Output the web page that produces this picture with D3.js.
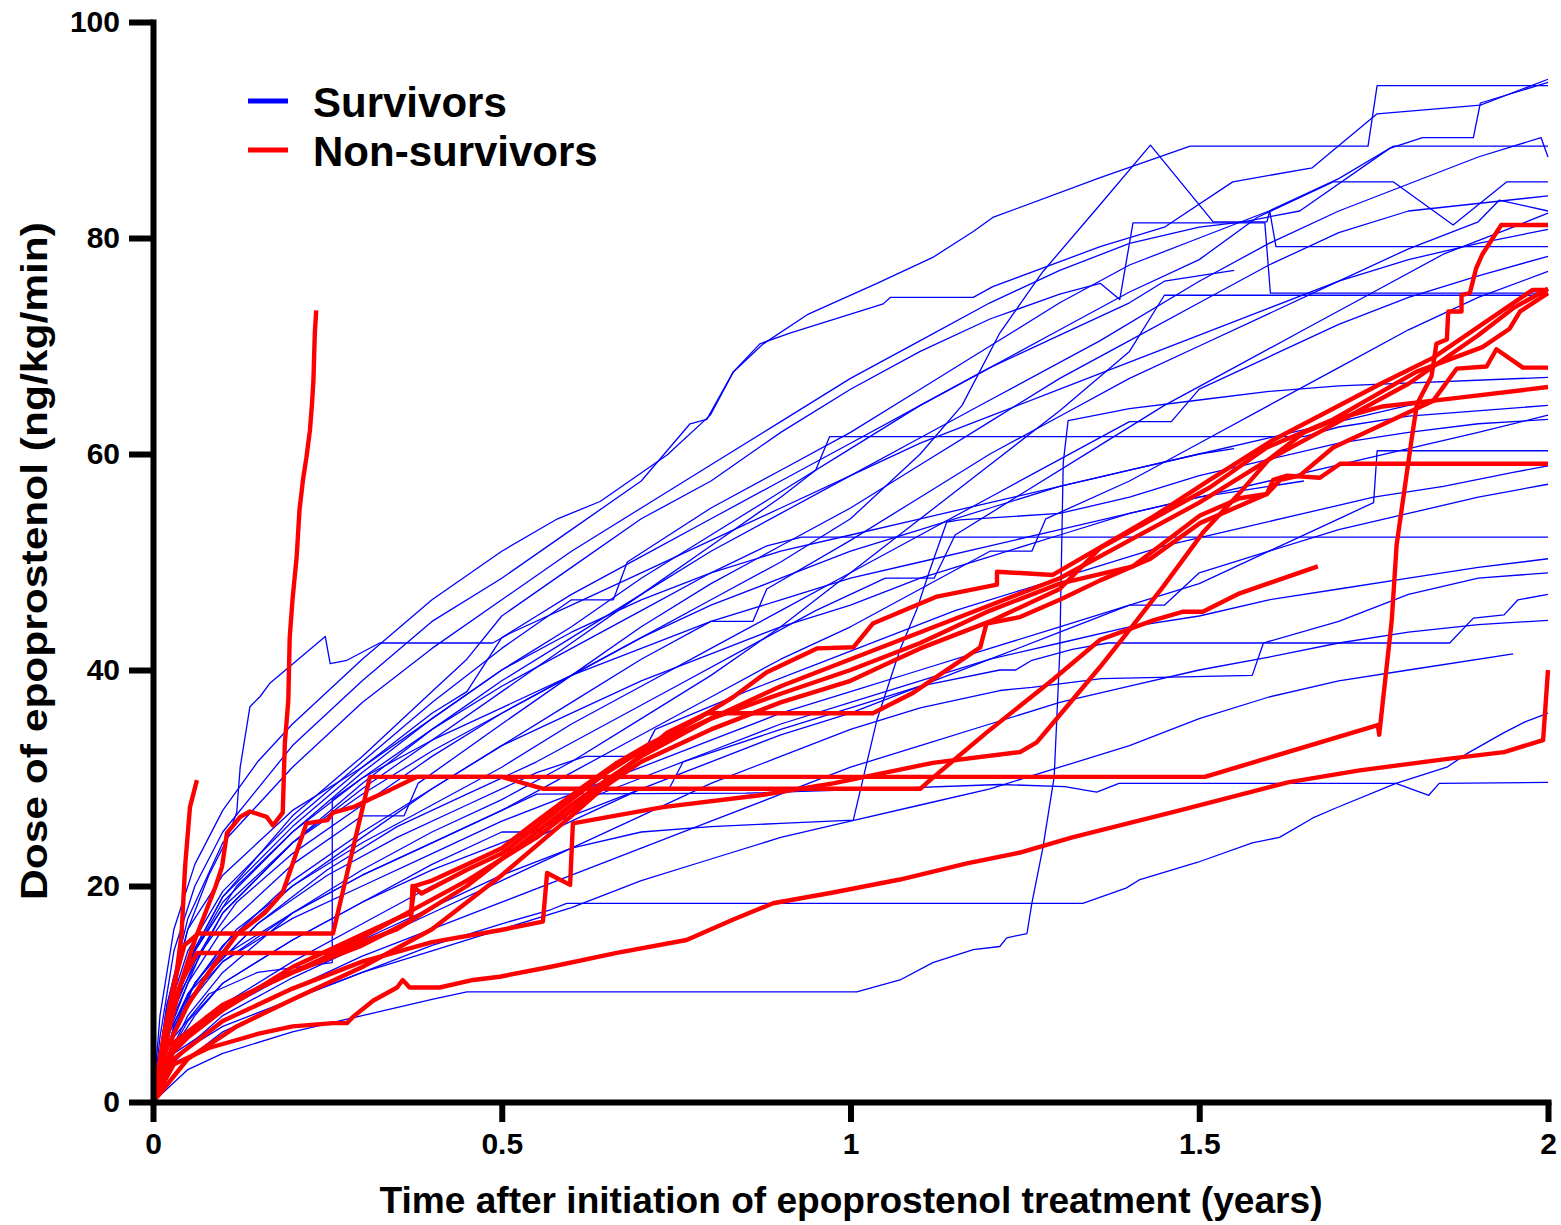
<!DOCTYPE html>
<html>
<head>
<meta charset="utf-8">
<script src="https://cdn.jsdelivr.net/npm/d3@7/dist/d3.min.js"></script>
<style>
  html, body { margin: 0; padding: 0; background: #fff; }
  svg { display: block; }
  text { font-family: "Liberation Sans", Arial, sans-serif; font-weight: bold; fill: #000; }
</style>
</head>
<body>
<svg id="chart" width="1561" height="1225"></svg>
<script>
// Axis ticks
const xTicks = [0, 0.5, 1, 1.5, 2];
const yTicks = [0, 20, 40, 60, 80, 100];

// Survivors: [years, ng/kg/min]
const s01 = [[0,0],[0.01,8],[0.03,16],[0.06,22],[0.1,27],[0.15,31.5],[0.2,35],[0.3,41],[0.4,46.5],[0.5,51],[0.58,54],[0.641,55.6],[0.737,59.9],[0.799,63.6],[0.832,67.6],[0.875,70.2],[0.938,72.9],[1.038,75.8],[1.118,78.2],[1.176,80.6],[1.204,81.9],[1.358,85.6],[1.487,88.5],[1.742,88.5],[1.755,94.1],[2.0,94.1]];
const s02 = [[0,0],[0.01,6],[0.03,14],[0.06,20],[0.1,25],[0.2,33],[0.3,39],[0.4,44.5],[0.5,48.5],[0.6,53],[0.7,57.5],[0.77,62.8],[0.794,63.2],[0.832,67.6],[0.87,70.2],[0.913,71.2],[1.047,73.9],[1.057,74.5],[1.176,74.5],[1.204,75.5],[1.358,79.2],[1.45,81],[1.548,85.2],[1.662,86.5],[1.755,91.5],[1.903,92.3],[2.0,94.7]];
const s03 = [[0,0],[0.02,7],[0.05,13],[0.1,18],[0.2,24],[0.3,28.5],[0.4,32.5],[0.5,36],[0.6,39.5],[0.7,43],[0.8,46.5],[0.9,50],[1.0,54],[1.1,60],[1.16,64.5],[1.214,71.2],[1.276,76.9],[1.358,83.1],[1.43,88.6],[1.52,81.5],[1.597,81.5],[1.601,82.5],[1.61,79.2],[2.0,79.2]];
const s04 = [[0,0],[0.02,7],[0.05,13],[0.1,19],[0.2,26.5],[0.3,32],[0.4,38],[0.45,41],[0.5,45],[0.6,49.5],[0.7,54],[0.8,57.5],[0.9,62],[1.0,66],[1.1,69.5],[1.2,72.5],[1.3,74.8],[1.358,75.8],[1.386,74.3],[1.405,81.4],[1.594,81.4],[1.602,74.9],[2.0,74.9]];
const s05 = [[0,0],[0.02,9],[0.05,17],[0.1,24],[0.2,31],[0.3,37],[0.4,42],[0.5,46.5],[0.6,51],[0.7,55],[0.8,59],[0.9,63],[1.0,67],[1.1,70.5],[1.2,74],[1.3,77],[1.4,79.5],[1.5,81],[1.563,81.5],[1.644,82.5],[1.773,88.3],[1.82,89.3],[1.893,89.3],[1.903,92.5],[2.0,94.4]];
const s06 = [[0,0],[0.03,9],[0.1,17.5],[0.2,24],[0.3,29],[0.4,33.5],[0.5,38],[0.6,42.5],[0.7,47],[0.8,51],[0.9,54.5],[1.0,58],[1.1,61.5],[1.2,65],[1.358,70.5],[1.5,76],[1.6,79.5],[1.7,82.5],[1.8,85],[1.9,87.5],[1.99,89.3],[2.0,87.5]];
const s07 = [[0,0],[0.02,7],[0.06,14],[0.1,18.5],[0.2,25],[0.3,30.5],[0.4,35.5],[0.5,40],[0.6,44],[0.7,48.5],[0.8,52.5],[0.9,56.5],[1.0,60.5],[1.1,64.5],[1.2,68],[1.3,71.5],[1.4,75],[1.5,78],[1.583,81.9],[1.692,85.2],[1.778,85.2],[1.864,81.2],[1.941,85.2],[2.0,85.2]];
const s08 = [[0,0],[0.02,6],[0.05,11],[0.1,16],[0.2,22],[0.3,26.5],[0.36,26.5],[0.38,29.5],[0.5,35],[0.6,39.5],[0.7,44],[0.8,48],[0.9,51.5],[1.0,55],[1.1,59],[1.2,63],[1.3,67],[1.4,70.5],[1.5,74],[1.6,77.5],[1.7,80.5],[1.8,82.5],[2.0,83.9]];
const s09 = [[0,0],[0.02,5],[0.05,10],[0.1,14.5],[0.2,20.5],[0.3,25],[0.4,29],[0.5,33],[0.6,37],[0.7,41],[0.8,44.5],[0.86,44.5],[0.88,47.5],[1.0,52],[1.1,56],[1.2,60],[1.3,63.5],[1.4,67],[1.5,70],[1.6,73],[1.7,76],[1.8,79],[1.9,81.5],[1.93,83.5],[2.0,82.5]];
const s10 = [[0,0],[0.03,7],[0.08,12],[0.15,16.5],[0.25,21.5],[0.35,25.5],[0.45,28.5],[0.55,31.5],[0.65,35],[0.75,38.5],[0.85,42],[0.95,45.5],[1.05,48.5],[1.12,48.5],[1.15,52.5],[1.25,56.5],[1.35,60.5],[1.45,64.5],[1.55,68],[1.65,71.5],[1.75,75],[1.85,78.5],[1.95,81],[2.0,82.3]];
const s11 = [[0,0],[0.02,5],[0.06,11],[0.12,16],[0.2,20],[0.3,24],[0.4,27.5],[0.5,31],[0.6,35],[0.7,38.5],[0.8,42],[0.9,45.5],[1.0,49],[1.1,52.5],[1.2,56],[1.3,59.5],[1.4,63],[1.46,63],[1.5,66],[1.6,69],[1.7,72],[1.8,74.5],[1.9,76.5],[2.0,78.3]];
const s12 = [[0,0],[0.02,5],[0.05,9],[0.1,13],[0.2,17.5],[0.3,21],[0.4,24],[0.5,27],[0.6,30.5],[0.7,34],[0.8,37.5],[0.9,41],[1.0,44],[1.1,47.5],[1.2,51],[1.26,51],[1.28,54],[1.4,57.5],[1.5,61],[1.6,64.5],[1.7,68],[1.8,71.5],[1.9,74.5],[2.0,76.9]];
const s13 = [[0,0],[0.05,3],[0.1,4.5],[0.2,6.5],[0.3,8],[0.4,9.5],[0.45,10.2],[1.009,10.2],[1.071,11.3],[1.118,12.9],[1.176,14.1],[1.214,14.4],[1.224,15.2],[1.253,15.6],[1.26,18.4],[1.276,23.6],[1.292,30.1],[1.3,41.6],[1.305,59.2],[1.312,63.1],[1.4,64.2],[1.5,65],[1.6,65.8],[1.7,66.3],[2.0,67.1]];
const s14 = [[0,0],[0.05,4],[0.1,6.5],[0.2,9.5],[0.3,12],[0.4,14.5],[0.5,16.5],[0.57,17.8],[0.593,18.4],[1.333,18.4],[1.395,19.8],[1.415,20.6],[1.498,22.2],[1.576,24],[1.615,24.5],[1.663,26.3],[1.695,27.2],[1.782,29.5],[1.855,31],[1.885,32.3],[1.937,34.2],[1.967,35.2],[2.0,36]];
const s15 = [[0,0],[0.02,6],[0.05,10],[0.1,13.5],[0.15,15.5],[0.2,17.5],[0.3,21],[0.4,24],[0.5,27],[0.55,28.5],[0.85,28.6],[1.0,28.9],[1.214,29.4],[1.307,29.2],[1.353,28.7],[1.385,29.5],[1.782,29.5],[1.829,28.4],[1.844,29.5],[2.0,29.6]];
const s16 = [[0,0],[0.03,5],[0.1,9],[0.2,13],[0.3,16.5],[0.4,20],[0.5,23],[0.6,26],[0.7,29],[0.74,29],[0.76,31.5],[0.9,34.5],[1.0,36.5],[1.1,38.5],[1.214,40],[1.237,40],[1.26,40.9],[1.318,41.9],[1.369,42.5],[1.859,42.5],[1.893,44.8],[1.937,45.1],[1.957,46.5],[2.0,47]];
const s17 = [[0,0],[0.03,4],[0.1,8],[0.2,11.5],[0.3,14.5],[0.4,17.5],[0.5,20.5],[0.6,23.5],[0.7,26.5],[0.8,29.5],[0.9,32],[1.0,34.5],[1.1,36.5],[1.214,38.1],[1.26,38.4],[1.36,39.2],[1.576,39.5],[1.592,42.5],[1.7,44.5],[1.8,47],[1.9,48.5],[2.0,49]];
const s18 = [[0,0],[0.02,4],[0.06,8],[0.1,11],[0.2,15],[0.3,18.5],[0.4,22],[0.5,25],[0.56,25],[0.6,27.5],[0.7,30],[0.8,32.5],[0.9,35],[1.0,37],[1.1,39],[1.2,41],[1.3,42.5],[1.4,44],[1.5,45],[1.6,46.5],[1.7,47.5],[1.8,48.5],[1.9,49.5],[2.0,50.3]];
const s19 = [[0,0],[0.02,7],[0.06,14],[0.12,20],[0.2,25],[0.3,30],[0.4,34.5],[0.5,38.5],[0.6,42],[0.7,45.5],[0.8,49],[0.88,51.5],[0.93,52.3],[2.0,52.3]];
const s20 = [[0,0],[0.02,5],[0.05,9.5],[0.1,13],[0.2,17],[0.3,20],[0.4,23],[0.5,26],[0.6,28.5],[0.7,31],[0.8,33.5],[0.9,36],[1.0,38],[1.1,40],[1.2,42],[1.3,44],[1.4,46],[1.45,46],[1.5,49],[1.6,51],[1.7,53],[1.8,54.5],[1.9,56],[2.0,57.2]];
const s21 = [[0,0],[0.03,7],[0.08,12],[0.15,16.5],[0.25,21],[0.35,24.5],[0.45,27.5],[0.55,30.5],[0.62,32],[0.7,32],[0.72,34.5],[0.85,38],[0.95,40.5],[1.05,43],[1.15,45.5],[1.25,47.5],[1.35,49.5],[1.45,51.5],[1.55,53],[1.65,54.5],[1.75,56],[1.85,57],[1.95,58.3],[2.0,58.9]];
const s22 = [[0,0],[0.02,4],[0.05,7.5],[0.1,11],[0.2,15],[0.3,18.5],[0.4,21.5],[0.5,24],[0.6,26.5],[0.7,29],[0.8,31.5],[0.9,34],[1.0,36],[1.1,38.5],[1.2,41],[1.3,43.5],[1.4,46],[1.5,48],[1.6,51],[1.7,54],[1.75,55.5],[1.755,60.3],[2.0,60.3]];
const s23 = [[0,0],[0.02,6],[0.06,11],[0.12,15.5],[0.2,20],[0.3,24.5],[0.4,29],[0.5,33],[0.6,36],[0.7,39],[0.8,41.5],[0.9,44],[1.0,46],[1.1,48.5],[1.2,50.5],[1.3,52.5],[1.4,54.5],[1.5,56],[1.6,57.5],[1.7,59],[1.8,60.5],[1.9,62],[2.0,63.6]];
const s24 = [[0,0],[0.02,7],[0.06,13],[0.1,17.5],[0.2,24],[0.3,29.5],[0.4,34.5],[0.5,39],[0.6,43],[0.7,47],[0.8,51.5],[0.9,56],[0.95,58.5],[0.97,61.6],[1.65,61.6],[1.7,62.5],[1.8,63.5],[2.0,64.5]];
const s25 = [[0,0],[0.03,8],[0.07,14],[0.12,18.5],[0.2,23],[0.3,27.5],[0.4,32],[0.5,36],[0.6,39.5],[0.7,43],[0.8,46],[0.9,48.5],[1.0,51],[1.1,53],[1.2,55],[1.3,57],[1.4,58.5],[1.5,60],[1.6,61.5],[1.7,63],[1.8,64.5],[1.9,65.5],[2.0,66.2]];
const s26 = [[0,0],[0.02,4],[0.05,8],[0.1,12],[0.2,17.5],[0.3,21.5],[0.4,25],[0.5,28],[0.6,31.5],[0.7,35.5],[0.8,39.5],[0.9,44],[1.0,49],[1.1,54],[1.2,59],[1.3,64],[1.4,69.5],[1.45,74.7],[2.0,74.7]];
const s27 = [[0,0],[0.02,8],[0.05,14],[0.1,19.5],[0.2,26],[0.3,31.5],[0.4,37],[0.5,42],[0.6,46.5],[0.66,46.5],[0.68,50],[0.8,55],[0.9,58.5],[1.0,62],[1.1,66],[1.2,70],[1.3,74],[1.4,77.5],[1.5,80],[1.6,82.5],[1.7,85.5],[1.778,88.5],[2.0,88.5]];
const s28 = [[0,0],[0.02,8],[0.05,16],[0.08,21],[0.106,24.3],[0.12,26.8],[0.125,31],[0.139,36.6],[0.153,37.5],[0.168,38.8],[0.247,43.1],[0.254,40.6],[0.278,40.9],[0.325,42.5],[0.487,42.5],[0.512,43.4],[0.6,46],[0.7,49],[0.8,52],[0.9,55],[1.0,58],[1.1,61],[1.2,63.5],[1.3,66],[1.4,68.5],[1.5,71],[1.6,73.5],[1.7,76],[1.8,78],[1.9,79.5],[2.0,80.8]];
const s29 = [[0,0],[0.03,6],[0.08,10],[0.15,12],[0.257,12.9],[0.257,28],[0.3,30],[0.4,33.5],[0.5,36.5],[0.6,39.5],[0.7,42],[0.8,44.5],[0.9,46.5],[1.0,48.5],[1.1,50],[1.2,51.5],[1.3,53],[1.4,54.5],[1.5,56],[1.6,57],[1.65,57.5]];
const s30 = [[0,0],[0.03,5],[0.1,8.5],[0.2,12],[0.3,15],[0.4,18],[0.5,21],[0.6,23.5],[0.7,25],[0.8,25.5],[0.9,25.8],[1.004,26.1],[1.038,35.4],[1.071,41.9],[1.095,45.6],[1.114,49.3],[1.138,53.7],[1.157,53.9],[1.3,54.5],[1.4,56],[1.5,58],[1.6,59.5],[1.7,61],[1.8,62],[1.9,62.8],[2.0,63.2]];
const s31 = [[0,0],[0.02,7],[0.05,13],[0.1,19],[0.2,25.5],[0.3,31],[0.4,36],[0.45,38],[0.5,43],[0.55,45],[0.6,47],[0.7,50.5],[0.8,54],[0.9,57.5],[1.0,61],[1.1,64.5],[1.2,68],[1.3,71],[1.4,74],[1.45,76],[1.55,77]];
const s32 = [[0,0],[0.02,3],[0.05,5],[0.1,7],[0.2,9.5],[0.3,12],[0.4,14],[0.5,16],[0.6,18],[0.7,20.5],[0.8,22.5],[0.9,24.5],[1.0,26],[1.1,27.5],[1.2,29],[1.3,31],[1.4,33],[1.5,35.5],[1.6,37.5],[1.7,39],[1.8,40],[1.95,41.5]];
const s33 = [[0,0],[0.02,9],[0.05,16],[0.1,21],[0.15,24],[0.2,27],[0.3,31],[0.4,35.5],[0.5,40],[0.6,43.5],[0.7,46.5],[0.8,49],[0.9,51],[1.0,52.5],[1.1,54],[1.2,55.5],[1.3,57],[1.4,58.5],[1.5,60],[1.55,60.5]];
const s34 = [[0,0],[0.03,4.5],[0.1,7.5],[0.2,10.5],[0.3,13.5],[0.4,16],[0.5,18.5],[0.6,21],[0.7,23.5],[0.8,26],[0.9,28.5],[1.0,31],[1.1,33],[1.2,35],[1.3,37],[1.4,38.5],[1.5,40],[1.6,41.2],[1.7,42.5],[1.8,43.5],[1.9,44.2],[2.0,44.6]];

// Non-survivors: [years, ng/kg/min]
const n01 = [[0,0],[0.03,9],[0.06,15],[0.09,20],[0.099,21.8],[0.106,24.9],[0.125,26.4],[0.139,26.9],[0.163,26.4],[0.172,25.6],[0.186,26.8],[0.189,33.2],[0.194,37.2],[0.196,43],[0.2,46.5],[0.206,50.5],[0.21,54.8],[0.215,57.6],[0.22,59.7],[0.225,62.2],[0.228,64.7],[0.23,66.8],[0.232,71.2],[0.234,73.3]];
const n02 = [[0,0],[0.015,5],[0.03,10],[0.041,15.6],[0.046,21.8],[0.053,27.3],[0.063,29.8]];
const n03 = [[0,0],[0.015,6],[0.03,11],[0.045,14.5],[0.065,15.6],[0.258,15.6],[0.285,23],[0.311,30.1],[1.508,30.1],[1.756,34.9],[1.758,34.0],[1.776,44.6],[1.783,51.6],[1.805,61.6],[1.812,64.6],[1.833,67.2],[1.84,70.2],[1.855,70.6],[1.857,73.2],[1.876,73.2],[1.876,74.7],[1.888,74.9],[1.897,77.2],[1.906,78.5],[1.933,81.2],[2.0,81.2]];
const n04 = [[0,0],[0.02,5],[0.05,9],[0.08,12],[0.12,15.5],[0.16,17.5],[0.186,19.4],[0.22,25.8],[0.25,26.1],[0.258,26.8],[0.287,27.3],[0.316,28.2],[0.34,28.9],[0.378,30.1],[0.5,30.1],[0.56,29.0],[1.1,29.0],[1.114,29.8],[1.195,34.2],[1.29,39.1],[1.358,42.8],[1.434,44.6],[1.477,45.4],[1.505,45.4],[1.558,47.1],[1.67,49.6]];
const n05 = [[0,0],[0.03,4],[0.1,7.5],[0.2,10.5],[0.3,13],[0.4,14.8],[0.497,15.9],[0.559,16.7],[0.565,21.2],[0.598,20.1],[0.602,25.8],[0.731,27.3],[0.87,28.4],[0.975,29.5],[1.118,31.4],[1.243,32.4],[1.267,33.3],[1.31,36.6],[1.358,40.3],[1.396,43.4],[1.448,47.7],[1.505,52.7],[1.558,56.4],[1.6,59.5],[1.65,62],[1.7,63.3],[1.763,64.4],[1.87,65.2],[2.0,66.2]];
const n06 = [[0,0],[0.03,3.5],[0.08,5],[0.15,6.3],[0.2,7],[0.258,7.3],[0.278,7.3],[0.287,7.9],[0.316,9.4],[0.35,10.6],[0.358,11.3],[0.368,10.6],[0.411,10.6],[0.459,11.3],[0.497,11.6],[0.569,12.5],[0.665,13.8],[0.765,15],[0.832,16.9],[0.889,18.4],[0.975,19.4],[1.071,20.6],[1.167,22.1],[1.243,23.1],[1.318,24.5],[1.472,27],[1.627,29.6],[1.73,30.7],[1.859,31.8],[1.937,32.4],[1.993,33.5],[2.0,40]];
const n07 = [[0,0],[0.02,4],[0.05,6],[0.1,8.5],[0.15,10.5],[0.2,12.5],[0.3,15.5],[0.35,17],[0.37,17.5],[0.375,20],[0.4,20.5],[0.45,22],[0.5,23.5],[0.55,26],[0.617,29.2],[0.665,31.4],[0.713,33.2],[0.751,34.4],[0.784,35.6],[0.832,37.5],[0.88,39.8],[0.952,42],[1.004,42.1],[1.032,44.3],[1.124,46.8],[1.21,47.9],[1.21,49.1],[1.29,48.8],[1.434,54.2],[1.515,57.6],[1.606,61.3],[1.763,66.6],[1.835,68.9],[1.978,75.2],[2.0,75.2]];
const n08 = [[0,0],[0.03,5],[0.08,8],[0.15,10.5],[0.25,13.5],[0.35,17],[0.45,20.5],[0.55,24.5],[0.62,28],[0.7,31.5],[0.8,34.5],[0.9,37],[1.0,39],[1.05,40.5],[1.1,42],[1.2,44.5],[1.3,47.5],[1.358,51.3],[1.515,56.9],[1.597,60.6],[1.692,63.2],[1.811,67.6],[1.906,69.9],[1.945,71.6],[1.96,73.2],[2.0,74.9]];
const n09 = [[0,0],[0.05,4],[0.12,7],[0.2,9.5],[0.3,12.5],[0.4,16],[0.5,21],[0.6,26.5],[0.67,30.5],[0.737,34.2],[0.794,36],[1.032,36],[1.09,37.9],[1.186,42.1],[1.195,44.3],[1.243,44.9],[1.3,46.5],[1.358,48.3],[1.43,50.3],[1.501,53.6],[1.597,56.3],[1.616,57.6],[1.644,58],[1.692,60.6],[1.835,64.9],[1.869,67.9],[1.912,68.1],[1.926,69.7],[1.964,68],[2.0,68]];
const n10 = [[0,0],[0.03,5.5],[0.1,9],[0.2,12],[0.3,14.5],[0.37,16.8],[0.372,20],[0.385,19.3],[0.45,21.5],[0.5,23],[0.55,25.5],[0.6,28],[0.65,30.5],[0.7,32.5],[0.75,34],[0.8,35.5],[0.9,37.8],[1.0,40],[1.1,42.5],[1.2,45.5],[1.3,48],[1.405,49.6],[1.501,54.3],[1.558,55.9],[1.597,56.3],[1.606,57.6],[1.626,58],[1.673,57.8],[1.702,59.1],[2.0,59.1]];
const n11 = [[0,0],[0.02,6],[0.04,11],[0.063,13.8],[0.255,13.8],[0.3,14.8],[0.35,16],[0.4,18],[0.45,20],[0.5,22.5],[0.55,25],[0.6,27.5],[0.65,29.8],[0.7,32],[0.8,35.5],[0.9,38.5],[1.0,41],[1.1,43.5],[1.2,46],[1.3,48.5],[1.4,52],[1.5,55.5],[1.6,59.5],[1.7,63],[1.8,66.5],[1.9,71],[1.95,73.5],[2.0,75.3]];

const survivorSeries = [s01,s02,s03,s04,s05,s06,s07,s08,s09,s10,s11,s12,s13,s14,s15,s16,s17,s18,s19,s20,s21,s22,s23,s24,s25,s26,s27,s28,s29,s30,s31,s32,s33,s34];
const nonSurvivorSeries = [n01,n02,n03,n04,n05,n06,n07,n08,n09,n10,n11];

const legendItems = [
  { label: "Survivors", color: "#0000ff" },
  { label: "Non-survivors", color: "#ff0000" }
];

// Layout
const svg = d3.select("#chart");
svg.append("rect").attr("width", 1561).attr("height", 1225).attr("fill", "#fff");

const x = d3.scaleLinear().domain([0, 2]).range([153, 1548]);
const y = d3.scaleLinear().domain([0, 100]).range([1102, 22]);

const line = d3.line().x(d => x(d[0])).y(d => y(d[1])).curve(d3.curveLinear);

// Survivor traces (thin blue)
svg.append("g")
  .selectAll("path")
  .data(survivorSeries)
  .join("path")
  .attr("d", line)
  .attr("fill", "none")
  .attr("stroke", "#0000ff")
  .attr("stroke-width", 1.3)
  .attr("stroke-linejoin", "round");

// Non-survivor traces (thick red)
svg.append("g")
  .selectAll("path")
  .data(nonSurvivorSeries)
  .join("path")
  .attr("d", line)
  .attr("fill", "none")
  .attr("stroke", "#ff0000")
  .attr("stroke-width", 4.4)
  .attr("stroke-linejoin", "round");

// Axes
const yAxis = svg.append("g")
  .attr("transform", `translate(${x(0)},0)`)
  .call(d3.axisLeft(y).tickValues(yTicks).tickSize(24).tickSizeOuter(0).tickPadding(9));
const xAxis = svg.append("g")
  .attr("transform", `translate(0,${y(0)})`)
  .call(d3.axisBottom(x).tickValues(xTicks).tickFormat(d => String(d)).tickSize(20).tickSizeOuter(0).tickPadding(11));

[yAxis, xAxis].forEach(g => {
  g.select(".domain").attr("stroke", "#000").attr("stroke-width", 6).attr("stroke-linecap", "square");
  g.selectAll(".tick line").attr("stroke", "#000").attr("stroke-width", 6);
  g.selectAll(".tick text")
    .attr("font-family", "'Liberation Sans', Arial, sans-serif")
    .attr("font-weight", "bold")
    .attr("font-size", 30)
    .attr("fill", "#000");
});

// Axis titles
svg.append("text")
  .attr("x", 851).attr("y", 1213)
  .attr("text-anchor", "middle")
  .attr("font-size", 36)
  .attr("textLength", 943)
  .attr("lengthAdjust", "spacingAndGlyphs")
  .text("Time after initiation of epoprostenol treatment (years)");

svg.append("text")
  .attr("transform", "translate(47,561) rotate(-90)")
  .attr("text-anchor", "middle")
  .attr("font-size", 37)
  .attr("textLength", 678)
  .attr("lengthAdjust", "spacingAndGlyphs")
  .text("Dose of epoprostenol (ng/kg/min)");

// Legend
const legend = svg.append("g").attr("transform", "translate(248,101)");
legendItems.forEach((item, i) => {
  const row = legend.append("g").attr("transform", `translate(0,${i * 49})`);
  row.append("line")
    .attr("x1", 0).attr("x2", 40).attr("y1", 0).attr("y2", 0)
    .attr("stroke", item.color).attr("stroke-width", 5);
  row.append("text")
    .attr("x", 65).attr("y", 16)
    .attr("font-size", 42)
    .text(item.label);
});
</script>
</body>
</html>
